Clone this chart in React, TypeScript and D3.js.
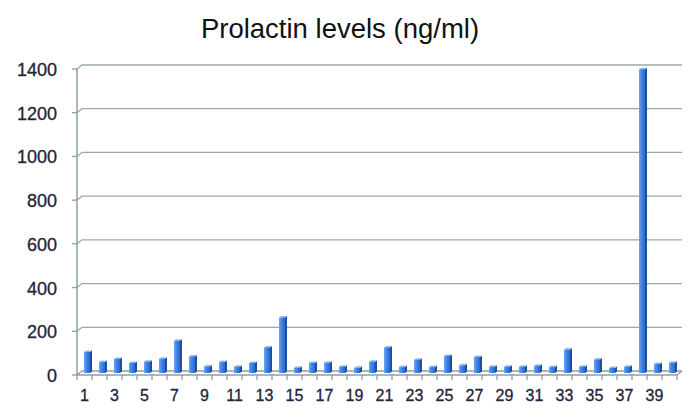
import React from "react";
import * as d3 from "d3";

const categories: number[] = Array.from({ length: 40 }, (_, i) => i + 1);
const values: number[] = [
  96, 50, 64, 46, 52, 65, 148, 76, 30, 50,
  29, 46, 117, 254, 24, 46, 47, 29, 24, 52,
  117, 27, 61, 27, 78, 35, 73, 29, 29, 29,
  33, 27, 107, 29, 62, 23, 29, 1390, 41, 47,
];
const yTicks: number[] = [0, 200, 400, 600, 800, 1000, 1200, 1400];
const title = "Prolactin levels (ng/ml)";

const W = 700;
const H = 419;
const left = 77;
const right = 677;
const bottom = 375;
const top = 69;
const DX = 5;
const DY = -4;

export default function App() {
  const x = d3.scaleBand<number>().domain(categories).range([left, right]).padding(0);
  const y = d3.scaleLinear().domain([0, 1400]).range([bottom, top]);
  const bw = 6;
  const side = 2;
  const mdx = DX / 2;
  const mdy = DY / 2;
  const axisColor = "#8f9e9e";
  const labelColor = "#23233a";

  return (
    <svg width={W} height={H} style={{ position: "absolute", left: 0, top: 0 }}>
      <defs>
        <linearGradient id="barg" x1="0" x2="1" y1="0" y2="0">
          <stop offset="0%" stopColor="#6aa6f2" />
          <stop offset="45%" stopColor="#3f85e6" />
          <stop offset="100%" stopColor="#2a67c9" />
        </linearGradient>
      </defs>
      <rect width={W} height={H} fill="#fff" />
      <text x={340} y={38} textAnchor="middle" fontFamily="Liberation Sans, Arial, sans-serif" fontSize={27.5} fill="#111">
        {title}
      </text>
      {yTicks.map((t) => (
        <g key={t}>
          <path
            d={`M${left},${y(t)} L${left + DX},${y(t) + DY} L${right + DX},${y(t) + DY}`}
            fill="none"
            stroke={t === 0 ? axisColor : "#9aa9a8"}
            strokeWidth={1.3}
          />
          <line x1={left - 5} x2={left} y1={y(t)} y2={y(t)} stroke={axisColor} strokeWidth={1.3} />
          <text
            x={57}
            y={y(t) + 7}
            textAnchor="end"
            fontFamily="Liberation Sans, Arial, sans-serif"
            fontSize={18}
            fill={labelColor}
            stroke={labelColor}
            strokeWidth={0.3}
          >
            {t}
          </text>
        </g>
      ))}
      <line x1={left} x2={left} y1={top} y2={bottom} stroke={axisColor} strokeWidth={1.5} />
      <line x1={left} x2={right} y1={bottom} y2={bottom} stroke={axisColor} strokeWidth={1.5} />
      <line x1={right} x2={right + DX} y1={bottom} y2={bottom + DY} stroke={axisColor} strokeWidth={1.3} />
      {categories.map((c) => (
        <line
          key={"t" + c}
          x1={(x(c) as number) + x.bandwidth()}
          x2={(x(c) as number) + x.bandwidth()}
          y1={bottom}
          y2={bottom + 5}
          stroke={axisColor}
          strokeWidth={1.3}
        />
      ))}
      <line x1={left} x2={left} y1={bottom} y2={bottom + 5} stroke={axisColor} strokeWidth={1.3} />
      {categories.map((c, i) => {
        const cx = (x(c) as number) + x.bandwidth() / 2 + mdx;
        const x0 = cx - bw / 2;
        const yTop = y(values[i]) + mdy;
        const yBot = bottom + mdy;
        return (
          <g key={"b" + c}>
            <polygon
              points={`${x0 + bw},${yTop} ${x0 + bw + side},${yTop - 1.5} ${x0 + bw + side},${yBot - 1.5} ${x0 + bw},${yBot}`}
              fill="#1f4f9e"
            />
            <polygon
              points={`${x0},${yTop} ${x0 + side},${yTop - 1.5} ${x0 + bw + side},${yTop - 1.5} ${x0 + bw},${yTop}`}
              fill="#8dbaf3"
            />
            <rect x={x0} y={yTop} width={bw} height={yBot - yTop} fill="url(#barg)" />
          </g>
        );
      })}
      {categories
        .filter((c) => c % 2 === 1)
        .map((c) => (
          <text
            key={"l" + c}
            x={(x(c) as number) + x.bandwidth() / 2}
            y={401}
            textAnchor="middle"
            fontFamily="Liberation Sans, Arial, sans-serif"
            fontSize={16}
            fill={labelColor}
            stroke={labelColor}
            strokeWidth={0.3}
          >
            {c}
          </text>
        ))}
    </svg>
  );
}
